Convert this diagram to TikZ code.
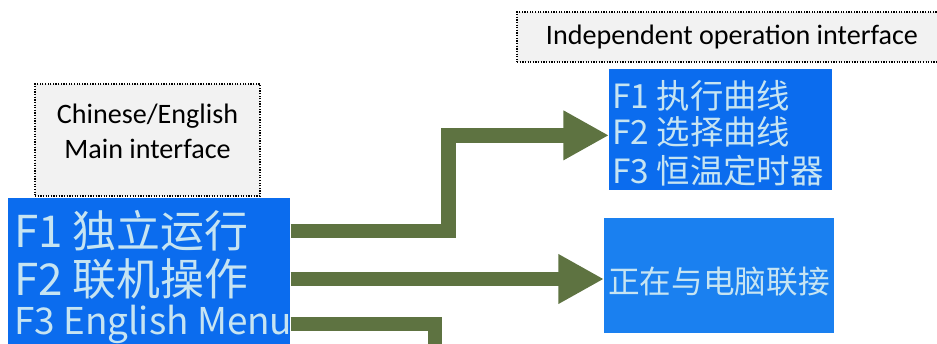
\documentclass[tikz,border=0pt]{standalone}
\usepackage{fontspec}
\setmainfont{Carlito}
\newfontfamily\cjk{Noto Sans CJK SC}
\usetikzlibrary{arrows.meta}
\definecolor{lcdblue}{HTML}{0B6CEE}
\definecolor{lcdlight}{HTML}{1A80F0}
\definecolor{lcdtext}{HTML}{C6E4F2}
\definecolor{flowgreen}{HTML}{5E7341}
\definecolor{tagfill}{HTML}{F2F2F2}
\begin{document}
\begin{tikzpicture}
  [x=0.02cm,y=-0.02cm,
   tag/.style={draw,line width=0.7pt,dash pattern=on 0.7pt off 0.8pt,
     fill=tagfill,align=center,inner sep=0pt,
     font=\fontsize{16}{19.5}\selectfont},
   screen/.style={fill=lcdblue,inner sep=0pt,anchor=north west},
   lcd/.style={text=lcdtext,anchor=west,inner sep=0pt},
   flow/.style={draw=flowgreen,line width=8.5pt,
     -{Triangle[width=26.5pt,length=26pt]}}]
  \useasboundingbox (0,0) rectangle (937,343);
  \clip (0,0) rectangle (937,343);
  \node[tag,text depth=10pt,minimum width=4.5cm,minimum height=2.24cm] (maintag)
    at (147.5,140) {Chinese/English\\Main interface};
  \node[tag,minimum width=8.6cm,minimum height=1cm] (indeptag) at (732,37)
    {Independent operation interface};
  \node[screen,minimum width=5.64cm,minimum height=3cm] (main) at (8,198) {};
  \node[screen,minimum width=4.46cm,minimum height=2.42cm] (indep) at (609,69) {};
  \node[screen,fill=lcdlight,minimum width=4.6cm,minimum height=2.3cm] (link) at (604,218) {};
  \node[lcd,font=\cjk\fontsize{25}{25}\selectfont] (m1) at (14,231) {F1 独立运行};
  \node[lcd,font=\cjk\fontsize{25}{25}\selectfont] (m2) at (14,279) {F2 联机操作};
  \node[lcd,font=\cjk\fontsize{21}{21}\selectfont] (m3) at (14,324) {F3 English Menu};
  \node[lcd,font=\cjk\fontsize{19}{19}\selectfont] (i1) at (612,96) {F1 执行曲线};
  \node[lcd,font=\cjk\fontsize{19}{19}\selectfont] (i2) at (612,132) {F2 选择曲线};
  \node[lcd,font=\cjk\fontsize{19}{19}\selectfont] (i3) at (612,171) {F3 恒温定时器};
  \node[lcd,font=\cjk\fontsize{18}{18}\selectfont] (l1) at (608,282) {正在与电脑联接};
  \coordinate (down) at (435,420);
  \draw[flow] (main.east |- m1) -- ++(158,0) |- ([yshift=-0.11cm]indep.west);
  \draw[flow] (main.east |- m2) -- (link.west |- m2);
  \draw[flow] (main.east |- m3) -| (down);
\end{tikzpicture}
\end{document}
